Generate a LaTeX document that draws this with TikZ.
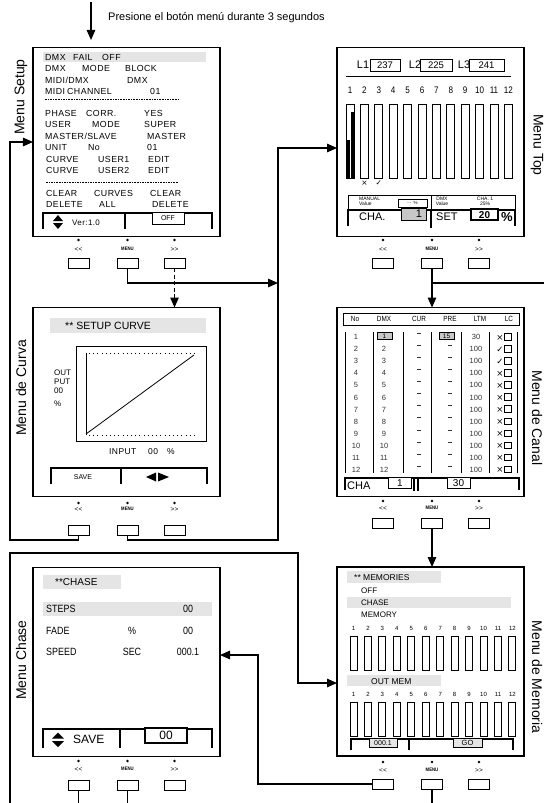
\documentclass[tikz,border=0pt]{standalone}
\usepackage{fontspec}
\setmainfont{Liberation Sans}
\newfontfamily\narrowfont[FakeStretch=0.85]{Liberation Sans}
\newfontfamily\symfont{DejaVu Sans}
\newfontfamily\spacedfont[LetterSpace=5]{Liberation Sans}
\usetikzlibrary{arrows.meta}
\newcommand\fsz[1]{\fontsize{#1bp}{#1bp}\selectfont}
\newcount\tcnt
\newcommand\txL[5][]{\global\advance\tcnt by 1\relax
  \node[anchor=base west,inner sep=0pt,font=#1\fsz{#4}] (t\the\tcnt) at ({#2},{#3+0.36*#4}) {#5};}
\newcommand\txC[5][]{\global\advance\tcnt by 1\relax
  \node[anchor=base,inner sep=0pt,font=#1\fsz{#4}] (t\the\tcnt) at ({#2},{#3+0.36*#4}) {#5};}
\newcommand\sL[3]{\txL[\spacedfont]{#1}{#2}{8.8}{#3}}
\definecolor{hl}{gray}{0.9}
\definecolor{gbox}{gray}{0.78}
\definecolor{tx}{gray}{0.2}
\newcommand\btns[5]{%
  \fill ({#2},{#3}) circle (1.3bp);
  \fill ({#2+49},{#3}) circle (1.3bp);
  \fill ({#2+96},{#3}) circle (1.3bp);
  \txC{#2}{#4}{6.5}{<{}<}
  \txC[\narrowfont\bfseries]{#2+49}{#4}{5}{MENU}
  \txC{#2+96}{#4}{6.5}{>{}>}
  \node[btn] (#1L) at ({#2},{#5}) {};
  \node[btn] (#1M) at ({#2+49},{#5}) {};
  \node[btn] (#1R) at ({#2+96},{#5}) {};
}
\begin{document}
\begin{tikzpicture}[x=1bp,y=-1bp,
  screen/.style={draw,line width=1.4bp,minimum width=187bp,minimum height=189bp,inner sep=0pt,outer sep=0pt},
  btn/.style={draw,line width=1bp,minimum width=21bp,minimum height=10bp,inner sep=0pt,outer sep=0pt},
  conn/.style={line width=1.3bp},
  arr/.style={conn,-{Triangle[length=10bp,width=8.5bp]}},
  brk/.style={line width=2bp},
  thinl/.style={line width=0.7bp},
  side/.style={font=\fsz{14},inner sep=0pt},
]
\useasboundingbox (0,0) rectangle (544,803);
\fill[white] (0,0) rectangle (544,803);

% ---------- screens ----------
\node[screen] (setup) at (126.5,142) {};
\node[screen] (curva) at (126.5,402) {};
\node[screen] (chase) at (126.5,662) {};
\node[screen] (top) at (430.5,142) {};
\node[screen] (canal) at (430.5,402) {};
\node[screen] (memo) at (430.5,661.5) {};

% ---------- side labels ----------
\node[side,rotate=90] (lsetup) at (21,97) {Menu Setup};
\node[side,rotate=90] (lcurva) at (21,388) {Menu de Curva};
\node[side,rotate=90] (lchase) at (21,660) {Menu Chase};
\node[side,rotate=-90] (ltop) at (537,145) {Menu Top};
\node[side,rotate=-90] (lcanal) at (537,418) {Menu de Canal};
\node[side,rotate=-90] (lmemo) at (537,677) {Menu de Memoria};

% ---------- top hint ----------
\coordinate (toptop) at (91,2);
\coordinate (toptip) at (91,40);
\draw[arr] (toptop) -- (toptip);
\txL{108}{17}{11}{Presione el botón menú durante 3 segundos}

% ---------- Menu Setup content ----------
\fill[hl] (43,52) rectangle (206,62);
\sL{45}{57}{DMX}\sL{73}{57}{FAIL}\sL{102}{57}{OFF}
\sL{45}{68.5}{DMX}\sL{82}{68.5}{MODE}\sL{125}{68.5}{BLOCK}
\sL{45}{80}{MIDI/DMX}\sL{127}{80}{DMX}
\sL{45}{91.5}{MIDI}\sL{67}{91.5}{CHANNEL}\sL{150}{91.5}{01}
\draw[line width=0.5bp,dash pattern=on 1.6bp off 1bp] (45,99)--(178,99);
\sL{45}{113}{PHASE}\sL{86}{113}{CORR.}\sL{144}{113}{YES}
\sL{45}{124.5}{USER}\sL{92}{124.5}{MODE}\sL{144}{124.5}{SUPER}
\sL{45}{136}{MASTER/SLAVE}\sL{147}{136}{MASTER}
\sL{45}{147.5}{UNIT}\sL{88}{147.5}{No}\sL{147}{147.5}{01}
\sL{46}{159}{CURVE}\sL{98}{159}{USER1}\sL{148}{159}{EDIT}
\sL{46}{170.5}{CURVE}\sL{98}{170.5}{USER2}\sL{148}{170.5}{EDIT}
\draw[line width=0.5bp,dash pattern=on 1.6bp off 1bp] (46,182)--(178,182);
\sL{46}{193}{CLEAR}\sL{94}{193}{CURVES}\sL{150}{193}{CLEAR}
\sL{46}{204.5}{DELETE}\sL{99}{204.5}{ALL}\sL{152}{204.5}{DELETE}
\draw[brk] (43,229)--(43,213)--(212,213)--(212,229);
\draw[brk] (125,213)--(125,229);
\draw[line width=1bp,fill=white] (152,212) rectangle (184,224);
\txC{168}{218}{7}{OFF}
\fill (53,221)--(58,215)--(63,221)--cycle;
\fill (53,223)--(58,229)--(63,223)--cycle;
\txL[\spacedfont]{72}{223}{8}{Ver:1.0}

% ---------- Menu de Curva content ----------
\fill[hl] (50,318) rectangle (206,333);
\txL{65}{326}{10.5}{** SETUP CURVE}
\draw[line width=1bp] (76,346) rectangle (206,441);
\draw[line width=0.8bp] (86,353)--(86,435);
\draw[line width=0.8bp,dash pattern=on 0.8bp off 3.4bp] (89,353)--(195,353);
\draw[line width=0.8bp,dash pattern=on 0.8bp off 3.4bp] (89,435)--(195,435);
\draw[line width=0.8bp] (86,434)--(194,355);
\txL{54}{373}{8}{OUT}\txL{54}{382}{8}{PUT}\txL{54}{391}{8}{00}\txL{54}{404}{8}{\%}
\txL[\spacedfont]{109}{451}{8.5}{INPUT}\txL[\spacedfont]{148}{451}{8.5}{00}\txL{167}{451}{8.5}{\%}
\draw[brk] (51,484)--(51,468)--(207,468)--(207,484);
\draw[brk] (121,468)--(121,484);
\txC{83}{477}{7}{SAVE}
\fill (146,477)--(156,472.5)--(156,481.5)--cycle;
\fill (158,472.5)--(169,477)--(158,481.5)--cycle;

% ---------- Menu Chase content ----------
\fill[hl] (43,575) rectangle (121,589);
\txL{55}{582}{10}{**CHASE}
\fill[hl] (43,602) rectangle (212,616);
\txL[\narrowfont]{46}{609}{10.5}{STEPS}\txC[\narrowfont]{188}{609}{10.5}{00}
\txL[\narrowfont]{46}{631}{10.5}{FADE}\txC[\narrowfont]{132}{631}{10.5}{\%}\txC[\narrowfont]{188}{631}{10.5}{00}
\txL[\narrowfont]{46}{652}{10.5}{SPEED}\txC[\narrowfont]{132}{652}{10.5}{SEC}\txC[\narrowfont]{188}{652}{10.5}{000.1}
\draw[brk] (43,748)--(43,729)--(212,729)--(212,748);
\draw[brk] (120,729)--(120,748);
\draw[line width=2bp,fill=white] (145,728) rectangle (187,743);
\txC{166}{735.5}{12}{00}
\fill (52,738.5)--(58,732.5)--(64,738.5)--cycle;
\fill (52,741)--(58,747)--(64,741)--cycle;
\txL{73}{739.5}{12}{SAVE}

% ---------- Menu Top content ----------
\txC{363}{65}{11}{L1}\draw[thinl] (370,59) rectangle (400,71);\txC{385}{65}{9.5}{237}
\txC{415}{65}{11}{L2}\draw[thinl] (420,59) rectangle (452,71);\txC{436}{65}{9.5}{225}
\txC{464}{65}{11}{L3}\draw[thinl] (469,59) rectangle (504,71);\txC{486.5}{65}{9.5}{241}
\draw[line width=1bp] (346,76)--(511,76);
\foreach \i in {1,...,12}{
  \draw[line width=0.8bp] ({346+14.4*(\i-1)},104) rectangle ++(8,74);
  \txC[\narrowfont]{350+14.4*(\i-1)}{90}{9.5}{\i}
}
\fill (350.5,112) rectangle (354,178);
\fill (346,140) rectangle (349.5,178);
\txC[\symfont]{364.4}{183}{7.5}{×}\txC[\symfont]{378.8}{183}{7.5}{✓}
\draw[line width=0.6bp] (348,195) rectangle (515,209);
\draw[line width=0.8bp] (431,195)--(431,210);
\txL{359}{198.5}{5}{MANUAL}\txL{359}{204}{5}{Value}
\draw[line width=0.6bp] (398,199) rectangle (427,207);\txC{412.5}{203}{4.5}{-\,-\ \ \%}
\txC{442}{198.5}{5}{DMX}\txC{442}{204}{5}{Value}
\txC{485}{198.5}{5}{CHA. 1}\txC{485}{204}{5}{25\%}
\draw[brk] (348,226)--(348,210)--(515,210)--(515,226);
\draw[brk] (431,210)--(431,228);
\txL{359}{216.5}{11}{CHA.}
\draw[line width=0.8bp,fill=gbox] (401,208) rectangle (426,220);\txC{419}{214}{11}{1}
\txL{436}{216.5}{11}{SET}
\draw[line width=1.6bp,fill=white] (471,209) rectangle (498,220);\txC{484.5}{214.5}{10}{\textbf{20}}
\txC{507}{216.5}{13}{\textbf{\%}}

% ---------- Menu de Canal content ----------
\draw[line width=1bp] (343,313) rectangle (519,325);
\txC[\narrowfont]{355}{319}{7.5}{No}\txC[\narrowfont]{384}{319}{7.5}{DMX}
\txC[\narrowfont]{419}{319}{7.5}{CUR}\txC[\narrowfont]{450}{319}{7.5}{PRE}
\txC[\narrowfont]{480}{319}{7.5}{LTM}\txC[\narrowfont]{509}{319}{7.5}{LC}
\foreach \x in {345,373,403,431,461,489,517} \draw[line width=0.6bp] (\x,332)--(\x,473);
\foreach \i in {1,...,12}{
  \pgfmathsetmacro\yy{337+12.06*(\i-1)}
  \txC[\color{tx}]{356}{\yy}{7.5}{\i}
  \draw[line width=0.9bp,tx] (417.3,{\yy-3.5})--(420.7,{\yy-3.5});
  \ifnum\i=1
    \draw[line width=0.6bp,fill=gbox] (377,{\yy-5}) rectangle (392,{\yy+2.5});
    \txC{384.5}{\yy-1}{6.5}{1}
    \draw[line width=0.6bp,fill=gbox] (439,{\yy-5}) rectangle (454,{\yy+2.5});
    \txC{446.5}{\yy-1}{6.5}{15}
    \txC[\color{tx}]{476}{\yy}{7.5}{30}
  \else
    \txC[\color{tx}]{384}{\yy}{7.5}{\i}
    \draw[line width=0.9bp,tx] (448.3,{\yy-3.5})--(451.7,{\yy-3.5});
    \txC[\color{tx}]{476}{\yy}{7.5}{100}
  \fi
  \txC[\symfont]{500}{\yy}{8.5}{\ifnum\i=2 ✓\else\ifnum\i=3 ✓\else ×\fi\fi}
  \draw[line width=0.8bp] (504.5,{\yy-3.5}) rectangle (511.5,{\yy+3});
}
\draw[brk] (345,490)--(345,478)--(519,478)--(519,490);
\draw[brk] (414,478)--(414,491);\draw[brk] (418,478)--(418,491);
\txL{347}{485.5}{11}{CHA}
\draw[line width=1bp,fill=white] (388,477) rectangle (411,488);\txC{400}{482.5}{10}{1}
\draw[line width=1bp,fill=white] (447,477) rectangle (470,488);\txC{458.5}{482.5}{10}{30}

% ---------- Menu de Memoria content ----------
\fill[hl] (347,571) rectangle (441,583);\txL{354}{577}{8.5}{** MEMORIES}
\txL{361}{591}{8}{OFF}
\fill[hl] (347,597) rectangle (511,608);\txL{361}{603}{8}{CHASE}
\txL{361}{615}{8}{MEMORY}
\fill[hl] (347,675) rectangle (441,686);\txL{371}{681}{8.5}{OUT MEM}
\foreach \i in {1,...,12}{
  \draw[line width=1bp] ({350+14.45*(\i-1)},636) rectangle ++(7,34);
  \txC{353.5+14.45*(\i-1)}{628}{6}{\i}
  \draw[line width=1bp] ({350+14.45*(\i-1)},702) rectangle ++(7,34);
  \txC{353.5+14.45*(\i-1)}{694}{6}{\i}
}
\draw[brk] (351,750)--(351,739)--(513,739)--(513,750);
\draw[brk] (409,739)--(409,750);
\draw[line width=0.8bp,fill=hl] (369,738) rectangle (397,747);\txC{383}{742.5}{7}{000.1}
\draw[line width=0.8bp,fill=hl] (453,738) rectangle (482,747);\txC{467.5}{742.5}{7.5}{GO}

% ---------- buttons ----------
\btns{s}{78.5}{240}{249}{263}
\btns{t}{383}{240}{249}{263}
\btns{c}{78.5}{503}{509}{530}
\btns{k}{383}{501}{508}{523}
\btns{h}{78.5}{761}{769}{785}
\btns{m}{383}{762}{770}{784}

% ---------- connectors ----------
\draw[arr,dash pattern=on 4bp off 2.5bp] (sR.south) -- (sR.south |- curva.north);
\coordinate (j1) at (278,283);
\draw[arr] (sM.south) |- (j1);
\coordinate (bus) at (278,540);
\coordinate (tin) at (337,148);
\draw[arr] (cM.south) |- (bus) |- (tin);
\coordinate (lbus) at (10,540);
\draw[arr] (cL.south) |- (lbus) |- (setup.west);
\draw[arr] (tM.south) -- (tM.south |- canal.north);
\coordinate (j2) at (432,283);
\coordinate (redge) at (544,283);
\draw[conn] (j2) -- (redge);
\draw[arr] (kM.south) -- (kM.south |- memo.north);
\coordinate (bl) at (10,803);
\coordinate (c2) at (298,553);
\coordinate (min) at (337,683);
\draw[arr] (bl) |- (c2) |- (min);
\coordinate (jx) at (258,655);
\draw[arr] (mL.west) -| (jx) -- (chase.east |- jx);
\coordinate (bedge) at (0,803);
\draw[conn] (hL.south) -- (hL.south |- bedge);
\draw[conn] (hM.south) -- (hM.south |- bedge);
\draw[conn] (mM.south) -- (mM.south |- bedge);
\end{tikzpicture}
\end{document}
